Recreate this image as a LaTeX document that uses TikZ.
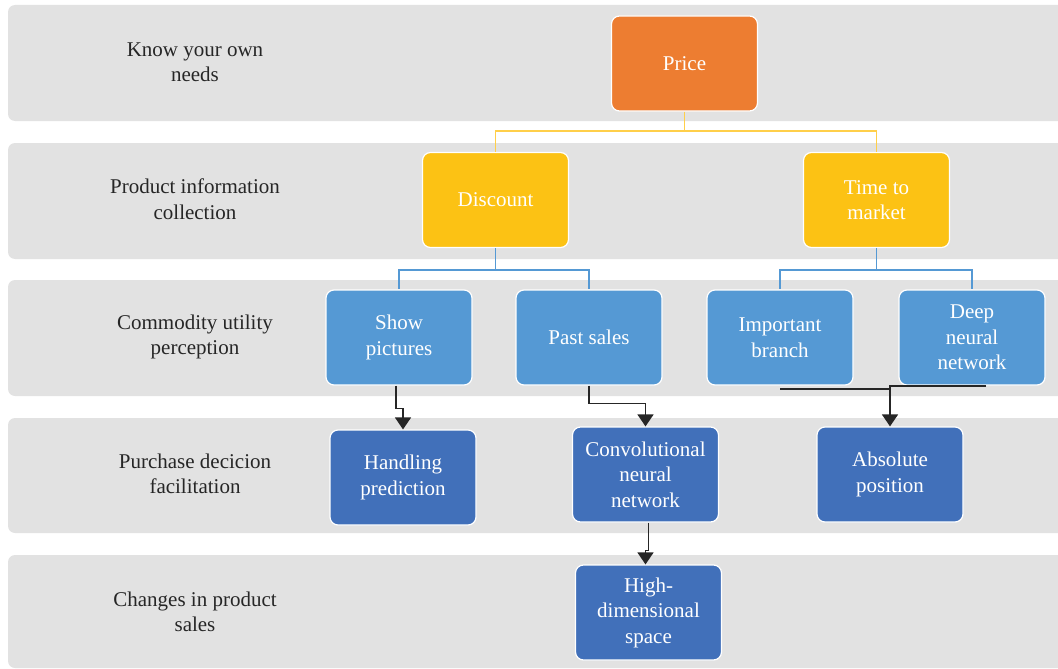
\documentclass[tikz,border=0pt]{standalone}
\usepackage{fontspec}
\setmainfont{Liberation Serif}
\usetikzlibrary{arrows.meta}
\definecolor{bandgray}{HTML}{E2E2E2}
\definecolor{orangebox}{HTML}{ED7D31}
\definecolor{yellowbox}{HTML}{FCC214}
\definecolor{yellowline}{HTML}{FFCF4A}
\definecolor{lightblue}{HTML}{5599D4}
\definecolor{darkblue}{HTML}{4170BA}
\definecolor{inkgray}{HTML}{262626}
\begin{document}
\begin{tikzpicture}[x=1pt,y=-1pt,
  band/.style={fill=bandgray, rounded corners=7pt},
  lab/.style={align=center, text=inkgray, font=\fontsize{21}{25.5}\selectfont},
  box/.style={draw=white, line width=1.2pt, rounded corners=8pt,
    minimum width=146pt, minimum height=95pt, inner sep=2pt,
    text=white, align=center, font=\fontsize{21}{25.5}\selectfont},
  topbox/.style={box, fill=orangebox},
  midbox/.style={box, fill=yellowbox},
  lowbox/.style={box, fill=lightblue},
  deepbox/.style={box, fill=darkblue},
  ylink/.style={draw=yellowline, line width=1.3pt},
  blink/.style={draw=lightblue, line width=1.3pt},
  arr/.style={draw=inkgray, line width=1.5pt,
    -{Triangle[width=16pt,length=12pt]}},
  plain/.style={draw=inkgray, line width=1.5pt}]
\useasboundingbox (0,0) rectangle (1058,669);
\clip (0,0) rectangle (1058,669);

% horizontal stage bands
\fill[band] (8,5)   rectangle (1075,121);
\fill[band] (8,143) rectangle (1075,259);
\fill[band] (8,280) rectangle (1075,396);
\fill[band] (8,418) rectangle (1075,533);
\fill[band] (8,555) rectangle (1075,668);

% stage labels
\node[lab] (l1) at (195,62)  {Know your own\\needs};
\node[lab] (l2) at (195,199) {Product information\\collection};
\node[lab] (l3) at (195,337) {Commodity utility\\perception};
\node[lab] (l4) at (195,474) {Purchase decicion\\facilitation};
\node[lab] (l5) at (195,612) {Changes in product\\sales};

% boxes
\node[topbox]  (price) at (684.5,63.5) {Price};
\node[midbox]  (disc)  at (495.5,200)  {Discount};
\node[midbox]  (ttm)   at (876.5,200)  {Time to\\market};
\node[lowbox]  (show)  at (399,337.5)  {Show\\pictures};
\node[lowbox]  (past)  at (589,337.5)  {Past sales};
\node[lowbox]  (imp)   at (780,337.5)  {Important\\branch};
\node[lowbox]  (deep)  at (972,337.5)  {Deep\\neural\\network};
\node[deepbox] (hand)  at (403,477.5)  {Handling\\prediction};
\node[deepbox] (cnn)   at (645.5,474.5) {Convolutional\\neural\\network};
\node[deepbox] (absp)  at (890,474.5)  {Absolute\\position};
\node[deepbox] (high)  at (648.5,612.5) {High-\\dimensional\\space};

% tree connectors
\coordinate (pbus) at (684.5,131);
\draw[ylink] (price.south) -- (pbus) -| (disc.north);
\draw[ylink] (pbus) -| (ttm.north);

\coordinate (dbus) at (495.5,270);
\draw[blink] (disc.south) -- (dbus) -| (show.north);
\draw[blink] (dbus) -| (past.north);

\coordinate (tbus) at (876.5,270);
\draw[blink] (ttm.south) -- (tbus) -| (imp.north);
\draw[blink] (tbus) -| (deep.north);

% flow arrows
\draw[arr] ([xshift=-3pt]show.south) -- ++(0,23) -| (hand.north);
\draw[arr] (past.south) -- ++(0,18) -| (cnn.north);
\coordinate (ibr) at (780,389);
\coordinate (dnn) at (986,386);
\draw[plain] (ibr) -- (ibr -| absp.north);
\draw[arr] (dnn) -| (absp.north);
\draw[arr] ([xshift=3pt]cnn.south) -- ++(0,28) -| ([xshift=-3pt]high.north);
\end{tikzpicture}
\end{document}
